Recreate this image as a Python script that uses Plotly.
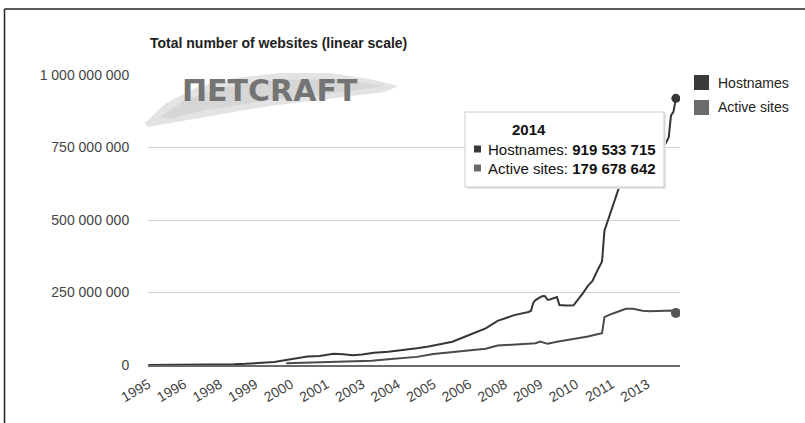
import plotly.graph_objects as go

# ---- data (values in millions of sites) ----
hostnames_months = [
    "1995-08", "1996-01", "1996-08", "1997-01", "1997-08", "1998-01", "1998-08",
    "1999-01", "1999-07", "2000-01", "2000-06", "2000-11", "2001-03", "2001-08",
    "2002-02", "2002-06", "2002-10", "2003-02", "2003-07", "2004-01", "2004-06",
    "2005-01", "2005-06", "2005-11", "2006-04", "2006-10", "2007-06", "2007-11",
    "2008-06", "2008-12", "2009-01", "2009-02", "2009-03", "2009-05", "2009-06",
    "2009-07", "2009-08", "2009-09", "2009-11", "2009-12", "2010-01", "2010-04",
    "2010-07", "2010-09", "2010-11", "2011-01", "2011-03", "2011-05", "2011-07",
    "2011-08", "2011-10", "2011-12", "2012-02", "2012-04", "2012-06", "2012-08",
    "2012-10", "2013-01", "2013-04", "2013-07", "2013-09", "2013-11", "2013-12",
    "2014-01", "2014-02",
]
hostnames_millions = [
    0.02, 0.1, 0.3, 0.7, 1.4, 2.0, 2.6,
    4.0, 6.5, 10, 17, 24, 29, 31,
    39, 37, 34, 36, 42, 46, 50,
    58, 64, 73, 80, 100, 126, 152,
    172, 183, 186, 215, 224, 234, 238,
    237, 225, 226, 232, 234, 207, 205,
    206, 227, 249, 273, 290, 325, 357,
    463, 510, 560, 610, 670, 690, 630,
    634, 630, 649, 700, 752, 785, 861,
    873, 919.533715,
]

active_months = [
    "2000-06", "2001-06", "2002-06", "2003-06", "2004-01", "2004-06", "2005-01",
    "2005-08", "2006-04", "2006-10", "2007-06", "2007-11", "2008-06", "2009-01",
    "2009-03", "2009-05", "2009-07", "2009-08", "2009-12", "2010-04", "2010-09",
    "2011-01", "2011-05", "2011-07", "2011-08", "2011-10", "2012-01", "2012-05",
    "2012-08", "2012-12", "2013-03", "2013-07", "2013-11", "2014-01", "2014-02",
]
active_millions = [
    6, 9, 12, 15, 20, 24, 28,
    38, 44, 48, 56, 67, 70, 72,
    75, 81, 76, 73, 80, 85, 93,
    98, 106, 110, 165, 173, 182, 194,
    194, 187, 185, 186, 189, 188, 179.678642,
]

tick_months = [
    "1995-08", "1996-11", "1998-02", "1999-05", "2000-08", "2001-11", "2003-02",
    "2004-05", "2005-08", "2006-11", "2008-02", "2009-05", "2010-08", "2011-11",
    "2013-02",
]
tick_labels = [
    "1995", "1996", "1998", "1999", "2000", "2001", "2003",
    "2004", "2005", "2006", "2008", "2009", "2010", "2011", "2013",
]
y_ticks = [0, 250_000_000, 500_000_000, 750_000_000, 1_000_000_000]

series_names = ["Hostnames", "Active sites"]
line_colors = ["#363636", "#4a4a4a"]
key_colors = ["#3a3a3a", "#6b6b6b"]
tooltip_title = "2014"

FONT = "Arial, 'Liberation Sans', sans-serif"
W, H = 805, 423
L, R, T, B = 148, 125, 75, 58
PW, PH = W - L - R, H - T - B


def px(x):
    return (x - L) / PW


def py(y):
    return (H - B - y) / PH


def spaced(n):
    return f"{int(round(n)):,}".replace(",", " ")


hostnames = [v * 1e6 for v in hostnames_millions]
active = [v * 1e6 for v in active_millions]

fig = go.Figure()
fig.add_trace(go.Scatter(x=hostnames_months, y=hostnames, mode="lines",
                         line=dict(color=line_colors[0], width=2), showlegend=False))
fig.add_trace(go.Scatter(x=active_months, y=active, mode="lines",
                         line=dict(color=line_colors[1], width=2), showlegend=False))
# end-point markers for the highlighted month
fig.add_trace(go.Scatter(x=[hostnames_months[-1]], y=[hostnames[-1]], mode="markers",
                         marker=dict(color=line_colors[0], size=9), showlegend=False))
fig.add_trace(go.Scatter(x=[active_months[-1]], y=[active[-1]], mode="markers",
                         marker=dict(color="#585858", size=10), showlegend=False))

shapes = []
annotations = []


def brush_path(points):
    return "M " + " L ".join(f"{px(a):.5f},{py(b):.5f}" for a, b in points) + " Z"


# brush-stroke watermark behind the logo lettering
brush_outer = [(145, 123), (165, 104), (195, 88), (235, 78), (280, 73), (330, 73),
               (370, 79), (398, 86), (385, 92), (335, 98), (270, 106), (205, 117),
               (165, 124), (148, 127)]
brush_inner = [(160, 117), (185, 100), (225, 87), (280, 80), (335, 79), (385, 86),
               (335, 93), (270, 100), (205, 110), (170, 119)]
shapes.append(dict(type="path", xref="paper", yref="paper", path=brush_path(brush_outer),
                   fillcolor="#e3e3e3", line=dict(width=0), layer="below"))
shapes.append(dict(type="path", xref="paper", yref="paper", path=brush_path(brush_inner),
                   fillcolor="#d6d6d6", line=dict(width=0), layer="below"))
annotations.append(dict(xref="paper", yref="paper", x=px(270), y=py(90),
                        text="<b>ΠETCRAFT</b>", showarrow=False,
                        font=dict(family="DejaVu Sans", size=30, color="#747474"),
                        xanchor="center", yanchor="middle"))

# outer frame (top and left edges)
shapes.append(dict(type="line", xref="paper", yref="paper", x0=px(4.5), x1=px(806),
                   y0=py(9), y1=py(9), line=dict(color="#222", width=1.5)))
shapes.append(dict(type="line", xref="paper", yref="paper", x0=px(4.5), x1=px(4.5),
                   y0=py(9), y1=py(424), line=dict(color="#222", width=1.5)))

# title
annotations.append(dict(xref="paper", yref="paper", x=0, y=py(43),
                        text="<b>Total number of websites (linear scale)</b>",
                        showarrow=False, xanchor="left", yanchor="middle",
                        font=dict(family=FONT, size=14, color="#222")))

# legend keys
for i, name in enumerate(series_names):
    yc = 82.5 + i * 25
    shapes.append(dict(type="rect", xref="paper", yref="paper",
                       x0=px(694), x1=px(709), y0=py(yc - 7.5), y1=py(yc + 7.5),
                       fillcolor=key_colors[i], line=dict(width=0)))
    annotations.append(dict(xref="paper", yref="paper", x=px(716), y=py(yc),
                            text=name, showarrow=False, xanchor="left", yanchor="middle",
                            font=dict(family=FONT, size=14, color="#222")))

# tooltip for the last month
shapes.append(dict(type="rect", xref="paper", yref="paper", layer="above",
                   x0=px(467), x1=px(666), y0=py(189), y1=py(114),
                   fillcolor="#e4e4e4", line=dict(width=0)))
shapes.append(dict(type="rect", xref="paper", yref="paper", layer="above",
                   x0=px(465), x1=px(664), y0=py(187), y1=py(112),
                   fillcolor="white", line=dict(color="#cccccc", width=1)))
annotations.append(dict(xref="paper", yref="paper", x=px(510), y=py(129),
                        text=f"<b>{tooltip_title}</b>", showarrow=False,
                        xanchor="left", yanchor="middle",
                        font=dict(family=FONT, size=15, color="#111")))
for i, (name, vals) in enumerate(zip(series_names, [hostnames, active])):
    yc = 149 + i * 19
    shapes.append(dict(type="rect", xref="paper", yref="paper", layer="above",
                       x0=px(474), x1=px(481), y0=py(yc + 3.5), y1=py(yc - 3.5),
                       fillcolor=key_colors[i], line=dict(width=0)))
    annotations.append(dict(xref="paper", yref="paper", x=px(486), y=py(yc),
                            text=f"{name}: <b>{spaced(vals[-1])}</b>", showarrow=False,
                            xanchor="left", yanchor="middle",
                            font=dict(family=FONT, size=15, color="#111")))

fig.update_layout(
    width=W, height=H,
    margin=dict(l=L, r=R, t=T, b=B),
    paper_bgcolor="white", plot_bgcolor="white",
    shapes=shapes, annotations=annotations,
    showlegend=False,
    xaxis=dict(
        type="date", range=["1995-07-28", "2014-03-26"],
        tickvals=tick_months, ticktext=tick_labels, tickangle=-30,
        showgrid=False, zeroline=False, showline=True,
        linecolor="#6a6a6a", linewidth=2,
        tickfont=dict(family=FONT, size=14, color="#444"),
        ticks="outside", ticklen=4, tickcolor="rgba(0,0,0,0)",
    ),
    yaxis=dict(
        range=[0, 1e9], tickvals=y_ticks, ticktext=[spaced(v) for v in y_ticks],
        showgrid=True, gridcolor="#d4d4d4", gridwidth=1, zeroline=False,
        ticks="outside", ticklen=15, tickcolor="rgba(0,0,0,0)",
        tickfont=dict(family=FONT, size=14, color="#444"),
    ),
)

fig.write_html("out.html")
